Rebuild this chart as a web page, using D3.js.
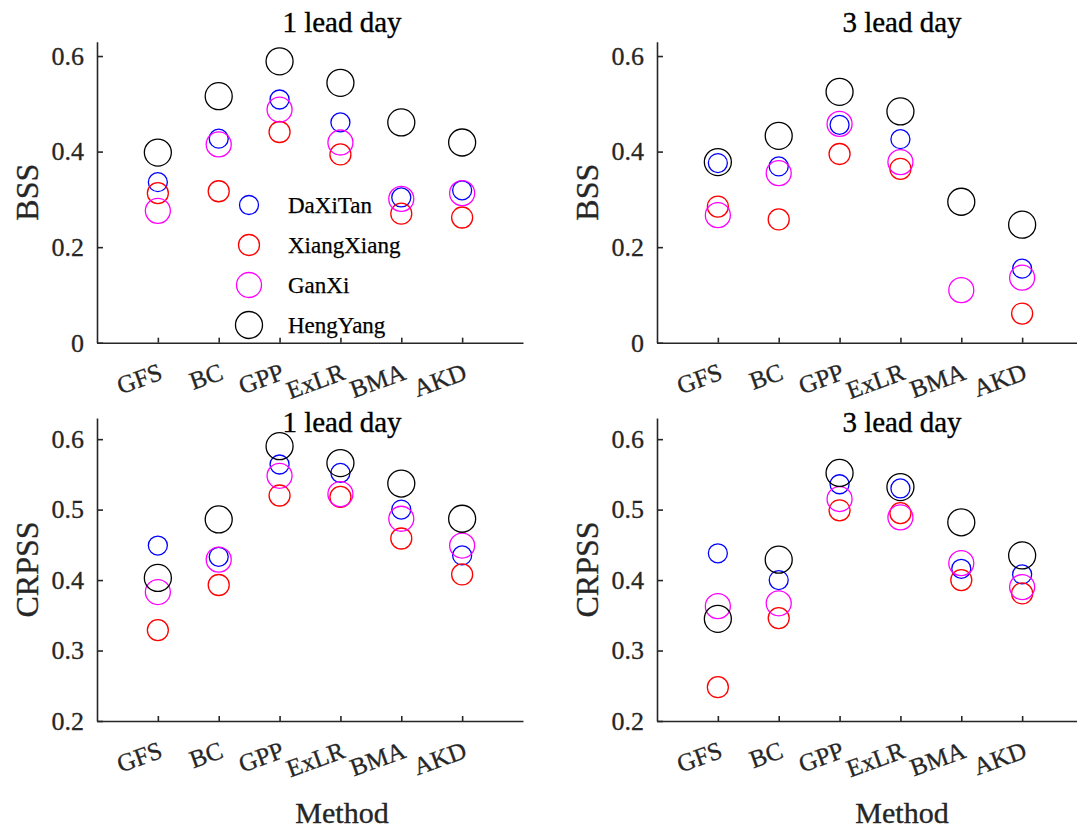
<!DOCTYPE html>
<html>
<head>
<meta charset="utf-8">
<script src="https://cdn.jsdelivr.net/npm/d3@7/dist/d3.min.js"></script>
<style>
  html, body { margin: 0; padding: 0; background: #fff; }
  svg { display: block; }
  text { font-family: "Liberation Serif", "Times New Roman", serif; }
</style>
</head>
<body>
<svg id="chart" width="1077" height="832"></svg>
<script>
// Forecast verification scores per post-processing method and station
const methods = ["GFS", "BC", "GPP", "ExLR", "BMA", "AKD"];
const stations = ["DaXiTan", "XiangXiang", "GanXi", "HengYang"];
const stationColors = ["#0000ff", "#ff0000", "#ff00ff", "#000000"];
const stationRadii = [9.5, 10.5, 12.5, 13.5];

// BSS, 1 lead day
const bss1 = {
  DaXiTan:    [0.336, 0.427, 0.509, 0.461, 0.304, 0.319],
  XiangXiang: [0.313, 0.317, 0.441, 0.394, 0.270, 0.262],
  GanXi:      [0.276, 0.415, 0.488, 0.419, 0.301, 0.313],
  HengYang:   [0.398, 0.516, 0.589, 0.544, 0.461, 0.419]
};
// BSS, 3 lead day (null = not shown on the axis)
const bss3 = {
  DaXiTan:    [0.376, 0.369, 0.456, 0.426, null, 0.155],
  XiangXiang: [0.285, 0.258, 0.395, 0.364, null, 0.061],
  GanXi:      [0.267, 0.355, 0.458, 0.378, 0.110, 0.136],
  HengYang:   [0.378, 0.433, 0.525, 0.484, 0.295, 0.247]
};
// CRPSS, 1 lead day
const crpss1 = {
  DaXiTan:    [0.449, 0.433, 0.564, 0.552, 0.500, 0.435],
  XiangXiang: [0.329, 0.393, 0.520, 0.518, 0.459, 0.408],
  GanXi:      [0.383, 0.429, 0.548, 0.522, 0.487, 0.449],
  HengYang:   [0.403, 0.486, 0.590, 0.566, 0.537, 0.487]
};
// CRPSS, 3 lead day
const crpss3 = {
  DaXiTan:    [0.438, 0.400, 0.536, 0.530, 0.416, 0.408],
  XiangXiang: [0.248, 0.346, 0.499, 0.495, 0.400, 0.381],
  GanXi:      [0.363, 0.367, 0.515, 0.489, 0.424, 0.390],
  HengYang:   [0.345, 0.429, 0.552, 0.532, 0.482, 0.435]
};

const bssTicks = [0, 0.2, 0.4, 0.6];
const crpssTicks = [0.2, 0.3, 0.4, 0.5, 0.6];

const panels = [
  { data: bss1,   title: "1 lead day", ylabel: "BSS",   domain: [0, 0.63],   ticks: bssTicks,   x0: 97,  y0: 342.7, y1: 41.7, titleY: 32,  xlabel: false },
  { data: bss3,   title: "3 lead day", ylabel: "BSS",   domain: [0, 0.63],   ticks: bssTicks,   x0: 657, y0: 342.7, y1: 41.7, titleY: 32,  xlabel: false },
  { data: crpss1, title: "1 lead day", ylabel: "CRPSS", domain: [0.2, 0.63], ticks: crpssTicks, x0: 97,  y0: 721,   y1: 418,  titleY: 432, xlabel: true },
  { data: crpss3, title: "3 lead day", ylabel: "CRPSS", domain: [0.2, 0.63], ticks: crpssTicks, x0: 657, y0: 721,   y1: 418,  titleY: 432, xlabel: true }
];

const svg = d3.select("#chart");
const axisColor = "#262626";
const axisWidth = 426;

function fmt(v) { return v === 0 ? "0" : d3.format(".1f")(v); }

// slightly heavier glyphs for the serif labels
function ink(sel, color, w) {
  return sel.attr("fill", color).attr("stroke", color).attr("stroke-width", w);
}

panels.forEach(p => {
  const g = svg.append("g");
  const x = d3.scaleLinear().domain([0, methods.length + 1]).range([p.x0, p.x0 + axisWidth]);
  const y = d3.scaleLinear().domain(p.domain).range([p.y0, p.y1]);

  // y axis, ticks pointing inward
  const yAxis = g.append("g")
    .attr("transform", `translate(${p.x0},0)`)
    .call(d3.axisLeft(y).tickValues(p.ticks).tickFormat(fmt).tickSizeInner(-6).tickSizeOuter(0).tickPadding(13));
  // x axis, ticks pointing inward
  const xAxis = g.append("g")
    .attr("transform", `translate(0,${p.y0})`)
    .call(d3.axisBottom(x).tickValues(methods.map((m, i) => i + 1)).tickFormat("").tickSizeInner(-5).tickSizeOuter(0));

  [yAxis, xAxis].forEach(a => {
    a.select(".domain").attr("stroke", axisColor).attr("stroke-width", 1.6);
    a.selectAll(".tick line").attr("stroke", axisColor).attr("stroke-width", 1.6);
  });
  ink(yAxis.selectAll(".tick text"), axisColor, 0.3)
    .style("font-size", "26px")
    .style("font-family", "'Liberation Serif', 'Times New Roman', serif");

  // rotated method labels
  ink(g.selectAll("text.method")
    .data(methods)
    .join("text")
    .attr("class", "method")
    .attr("transform", (d, i) => `translate(${x(i + 1) + 6},${p.y0 + 36}) rotate(-20)`)
    .attr("text-anchor", "end"), axisColor, 0.3)
    .style("font-size", "25px")
    .text(d => d);

  // title
  ink(g.append("text")
    .attr("x", p.x0 + 245)
    .attr("y", p.titleY)
    .attr("text-anchor", "middle"), "#000", 0.35)
    .style("font-size", "29px")
    .text(p.title);

  // y label
  ink(g.append("text")
    .attr("transform", `translate(${p.x0 - 70},${(p.y0 + p.y1) / 2}) rotate(-90)`)
    .attr("text-anchor", "middle")
    .attr("dominant-baseline", "central"), axisColor, 0.35)
    .style("font-size", "32px")
    .text(p.ylabel);

  if (p.xlabel) {
    ink(g.append("text")
      .attr("x", p.x0 + 245)
      .attr("y", p.y0 + 102)
      .attr("text-anchor", "middle"), axisColor, 0.35)
      .style("font-size", "30px")
      .text("Method");
  }

  // station markers
  stations.forEach((s, k) => {
    const pts = p.data[s].map((v, i) => ({ i, v })).filter(d => d.v !== null);
    g.selectAll(null)
      .data(pts)
      .join("circle")
      .attr("cx", d => x(d.i + 1))
      .attr("cy", d => y(d.v))
      .attr("r", stationRadii[k])
      .attr("fill", "none")
      .attr("stroke", stationColors[k])
      .attr("stroke-width", 1.3);
  });
});

// legend in the first panel
const legend = svg.append("g");
stations.forEach((s, k) => {
  const ly = 205 + k * 40;
  legend.append("circle")
    .attr("cx", 249).attr("cy", ly)
    .attr("r", stationRadii[k])
    .attr("fill", "none")
    .attr("stroke", stationColors[k])
    .attr("stroke-width", 1.3);
  ink(legend.append("text")
    .attr("x", 288).attr("y", ly)
    .attr("dominant-baseline", "central"), "#000", 0.25)
    .style("font-size", "23px")
    .text(s);
});
</script>
</body>
</html>
